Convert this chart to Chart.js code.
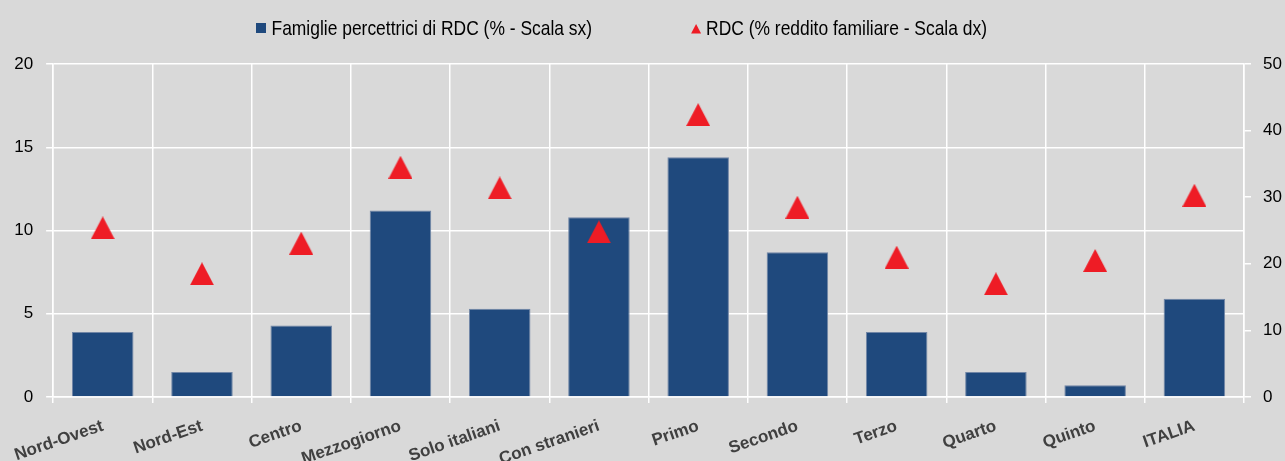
<!DOCTYPE html>
<html>
<head>
<meta charset="utf-8">
<script src="https://cdn.jsdelivr.net/npm/chart.js@4"></script>
<style>
  html, body { margin: 0; padding: 0; background: #d9d9d9; }
  #wrap { width: 1285px; height: 461px; }
</style>
</head>
<body>
<div id="wrap"><canvas id="rdc-chart" width="1285" height="461"></canvas></div>
<script>
const categorie = ['Nord-Ovest', 'Nord-Est', 'Centro', 'Mezzogiorno', 'Solo italiani', 'Con stranieri',
    'Primo', 'Secondo', 'Terzo', 'Quarto', 'Quinto', 'ITALIA'];
const famiglie = [3.9, 1.5, 4.3, 11.2, 5.3, 10.8, 14.4, 8.7, 3.9, 1.5, 0.7, 5.9];
const redditoRdc = [25.4, 18.5, 23.1, 34.5, 31.4, 24.8, 42.4, 28.5, 21.0, 17.0, 20.5, 30.3];
const tickSx = [0, 5, 10, 15, 20];
const tickDx = [0, 10, 20, 30, 40, 50];

const BLU = '#1f497d';
const ROSSO = '#ee1c25';
const FONT = '"Liberation Sans", Arial, sans-serif';

// triangolo come immagine, centrato sul suo riquadro (come il marker di Excel)
const triangolo = document.createElement('canvas');
triangolo.width = 24;
triangolo.height = 23;
const tctx = triangolo.getContext('2d');
tctx.fillStyle = ROSSO;
tctx.beginPath();
tctx.moveTo(0, 23);
tctx.lineTo(12, 0);
tctx.lineTo(24, 23);
tctx.closePath();
tctx.fill();

// testo "stretto" come l'Arial Narrow dell'originale
function testoStretto(c, testo, x, y) {
    c.save();
    c.translate(x, y);
    c.scale(0.83, 1);
    c.fillText(testo, 0, 0);
    c.restore();
    return c.measureText(testo).width * 0.83;
}

// legenda disegnata a mano per avere la spaziatura dell'originale
const legendaAlto = {
    id: 'legendaAlto',
    afterDraw(chart) {
        const ctx = chart.ctx;
        const ds = chart.data.datasets;
        ctx.save();
        ctx.font = '21px ' + FONT;
        ctx.textBaseline = 'middle';
        const y = 29;
        let x = 256;
        ctx.fillStyle = BLU;
        ctx.fillRect(x, 23, 10, 10);
        ctx.fillStyle = '#000';
        x += 15.5;
        x += testoStretto(ctx, ds[1].label, x, y) + 99;
        ctx.fillStyle = ROSSO;
        ctx.beginPath();
        ctx.moveTo(x, 33.5);
        ctx.lineTo(x + 5, 24);
        ctx.lineTo(x + 10, 33.5);
        ctx.closePath();
        ctx.fill();
        ctx.fillStyle = '#000';
        testoStretto(ctx, ds[0].label, x + 15, y);
        ctx.restore();
    }
};

const ctx = document.getElementById('rdc-chart');

new Chart(ctx, {
    type: 'bar',
    data: {
        labels: categorie,
        datasets: [{
            type: 'line',
            label: 'RDC (% reddito familiare - Scala dx)',
            data: redditoRdc,
            yAxisID: 'y1',
            showLine: false,
            pointStyle: triangolo,
            pointRadius: 12,
            order: 0
        }, {
            type: 'bar',
            label: 'Famiglie percettrici di RDC (% - Scala sx)',
            data: famiglie,
            yAxisID: 'y',
            backgroundColor: BLU,
            borderColor: '#7186a6',
            borderWidth: 1,
            categoryPercentage: 1,
            barPercentage: 0.62,
            order: 1
        }]
    },
    options: {
        responsive: false,
        animation: false,
        events: [],
        layout: {
            padding: { top: 64, left: 0, right: 0, bottom: 0 }
        },
        plugins: {
            legend: { display: false },
            tooltip: { enabled: false }
        },
        scales: {
            x: {
                offset: true,
                grid: {
                    offset: true,
                    color: '#ffffff',
                    lineWidth: 1.5,
                    tickLength: 6
                },
                border: { color: '#ffffff', width: 1.5 },
                ticks: {
                    minRotation: 19,
                    maxRotation: 19,
                    autoSkip: false,
                    padding: 13,
                    color: '#404040',
                    font: { family: FONT, size: 17, weight: 'bold' }
                },
                afterFit(scale) { scale.height = 64; }
            },
            y: {
                position: 'left',
                min: 0,
                max: 20,
                afterBuildTicks(scale) { scale.ticks = tickSx.map(v => ({ value: v })); },
                grid: {
                    color: '#ffffff',
                    lineWidth: 1.5,
                    tickLength: 7
                },
                border: { color: '#ffffff', width: 1.5 },
                ticks: {
                    padding: 13,
                    color: '#000',
                    font: { family: FONT, size: 17 }
                },
                afterFit(scale) { scale.width = 53; }
            },
            y1: {
                position: 'right',
                min: 0,
                max: 50,
                afterBuildTicks(scale) { scale.ticks = tickDx.map(v => ({ value: v })); },
                grid: {
                    drawOnChartArea: false,
                    color: '#ffffff',
                    lineWidth: 1.5,
                    tickLength: 7
                },
                border: { color: '#ffffff', width: 1.5 },
                ticks: {
                    padding: 12,
                    color: '#000',
                    font: { family: FONT, size: 17 }
                },
                afterFit(scale) { scale.width = 41; }
            }
        }
    },
    plugins: [legendaAlto]
});
</script>
</body>
</html>
